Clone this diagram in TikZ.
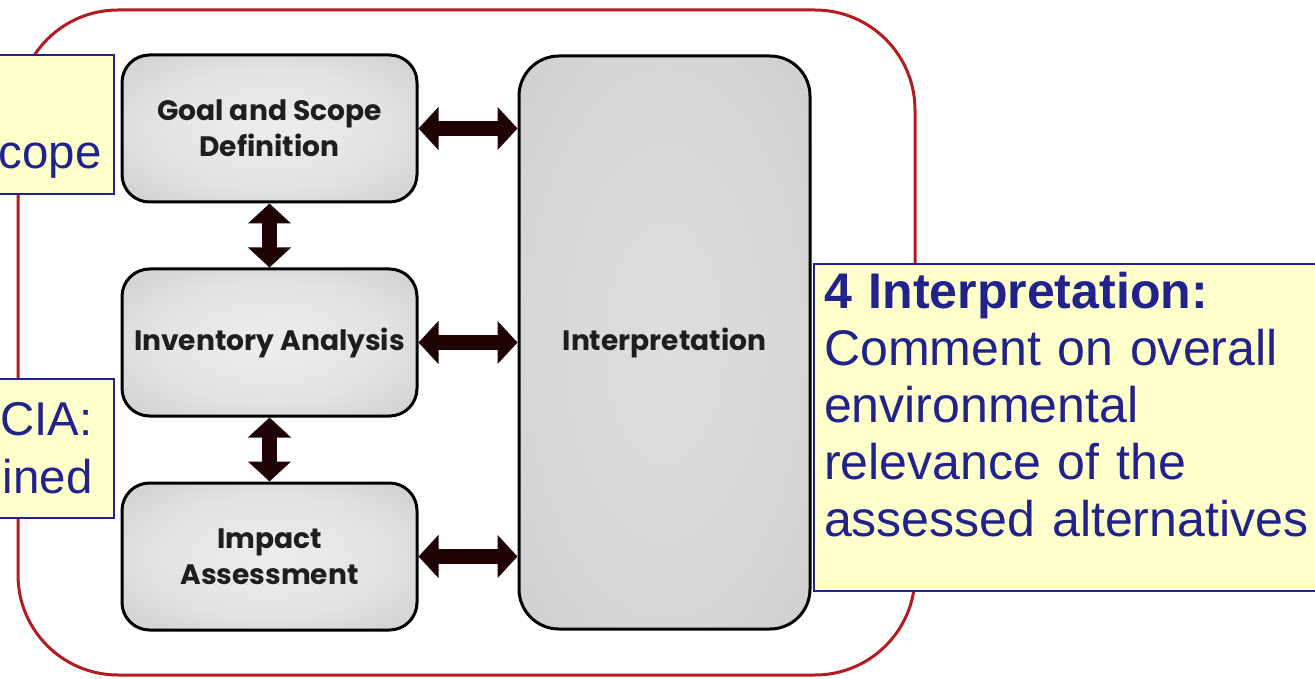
\documentclass[tikz,border=0pt]{standalone}
\usepackage{fontspec}
\setmainfont{Liberation Sans}
\newfontfamily\gothic{Poppins}
\usetikzlibrary{arrows.meta, calc, positioning}

\definecolor{framered}{RGB}{178,28,32}
\definecolor{notefill}{RGB}{255,255,204}
\definecolor{notenavy}{RGB}{34,34,140}
\definecolor{arrowdark}{RGB}{30,2,4}
\definecolor{boxtext}{RGB}{30,30,30}

\pgfdeclareradialshading{stageshade}{\pgfpoint{0bp}{0bp}}{rgb(0bp)=(0.93,0.93,0.93); rgb(20bp)=(0.89,0.89,0.89); rgb(50bp)=(0.74,0.74,0.74); rgb(72bp)=(0.70,0.70,0.70)}
\pgfdeclareradialshading{interpshade}{\pgfpoint{0bp}{0bp}}{rgb(0bp)=(0.87,0.87,0.87); rgb(25bp)=(0.84,0.84,0.84); rgb(50bp)=(0.77,0.77,0.77); rgb(72bp)=(0.74,0.74,0.74)}

\begin{document}
\begin{tikzpicture}[
    node distance=1.28cm,
    stage/.style={draw=black, line width=0.06cm, rounded corners=0.55cm, shade, shading=stageshade,
        minimum width=5.9cm, minimum height=2.94cm, align=center, text=boxtext,
        font=\gothic\bfseries\fontsize{16}{20.5}\selectfont},
    note/.style={draw=notenavy, line width=0.04cm, fill=notefill},
    notetext/.style={text=notenavy, font=\fontsize{28.5}{32.5}\selectfont},
    twoway/.style={{Triangle[length=0.4cm,width=0.84cm]}-{Triangle[length=0.4cm,width=0.84cm]},
        line width=0.3cm, draw=arrowdark},
    frame/.style={draw=framered, line width=0.06cm, rounded corners=2cm}
]
\useasboundingbox (0,0) rectangle (26.3,13.56);
\clip (0,0) rectangle (26.3,13.56);

% Frame
\draw[frame] (0.36,0.06) rectangle (18.3,13.36);

% Stages
\node[stage] (goal) at (5.39,10.99) {Goal and Scope\\Definition};
\node[stage, below=of goal] (inv) {Inventory Analysis};
\node[stage, below=of inv] (imp) {Impact\\Assessment};
\node[stage, shading=interpshade, rounded corners=0.8cm, minimum width=5.82cm,
    minimum height=11.46cm, right=1.98cm of inv] (interp) {Interpretation};

% Arrows
\draw[twoway] (goal.south) -- (inv.north);
\draw[twoway] (inv.south) -- (imp.north);
\draw[twoway] (goal.east) -- (goal.east -| interp.west);
\draw[twoway] (inv.east) -- (interp.west);
\draw[twoway] (imp.east) -- (imp.east -| interp.west);

% Notes
\node[note, anchor=north east, minimum width=2.8cm, minimum height=2.78cm] (scopenote) at (2.3,12.48) {};
\node[notetext, font=\fontsize{27}{32}\selectfont, inner sep=0pt, anchor=base east] (scopetext)
    at ($(scopenote.south east)+(-0.26,0.52)$) {cope};
\node[note, anchor=north east, minimum width=2.8cm, minimum height=2.78cm] (lcianote) at (2.3,6.0) {};
\node[notetext, font=\fontsize{27}{33}\selectfont, inner sep=0pt, align=right, anchor=south east] (lciatext)
    at ($(lcianote.south east)+(-0.44,0.5)$) {LCIA:\\ined};
\node[note, notetext, anchor=north west, text width=10cm, align=left, inner xsep=0.2cm,
    inner ysep=0.1cm, text depth=5.5cm, minimum height=6.54cm] (interpnote) at (16.26,8.3)
    {\textbf{4 Interpretation:}\\Comment on overall\\environmental\\relevance of the\\assessed alternatives};

\end{tikzpicture}
\end{document}
